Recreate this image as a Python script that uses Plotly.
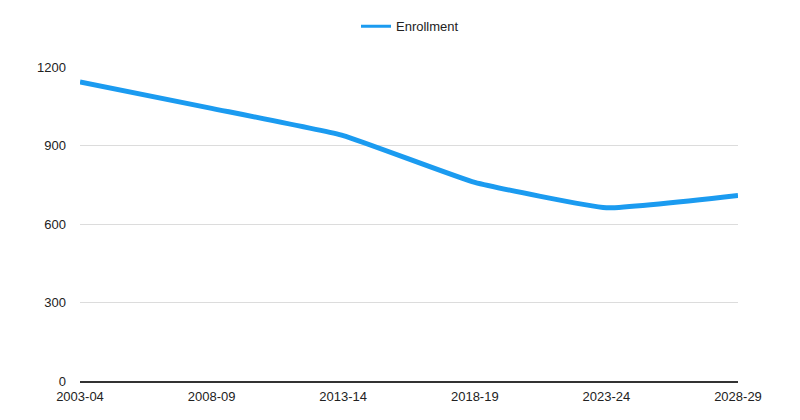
import plotly.graph_objects as go

years = ["2003-04", "2008-09", "2013-14", "2018-19", "2023-24", "2028-29"]
enrollment = [1143, 1042, 938, 759, 662, 709]
y_ticks = [0, 300, 600, 900, 1200]

fig = go.Figure()
fig.add_trace(go.Scatter(
    x=years, y=enrollment, mode="lines", name="Enrollment", showlegend=False,
    line=dict(color="#1b9bf0", width=5, shape="spline", smoothing=0.35),
))
# legend entry (thinner line as in the reference legend)
fig.add_trace(go.Scatter(
    x=[None], y=[None], mode="lines", name="Enrollment",
    line=dict(color="#1b9bf0", width=3),
))
fig.update_layout(
    width=800, height=420,
    margin=dict(l=72, r=70, t=59, b=47, autoexpand=False),
    paper_bgcolor="white", plot_bgcolor="white",
    font=dict(family="Liberation Sans, Arial, sans-serif", size=13, color="#222"),
    showlegend=True,
    legend=dict(orientation="h", xref="container", x=0.435, xanchor="left",
                yref="container", y=0.992, yanchor="top",
                font=dict(size=13, color="#222"), itemwidth=30),
    xaxis=dict(type="category", range=[0, 5], showgrid=False, showline=True,
               linecolor="#333", linewidth=1.5, ticks="", ticklen=0,
               automargin=False, ticklabelstandoff=3,
               tickfont=dict(size=13, color="#222")),
    yaxis=dict(range=[0, 1200], tickvals=y_ticks, showgrid=True,
               gridcolor="#dcdcdc", gridwidth=1, zeroline=False, showline=False,
               automargin=False, ticks="", tickfont=dict(size=13, color="#222"),
               ticklabelstandoff=13),
)
fig.write_html("out.html")
